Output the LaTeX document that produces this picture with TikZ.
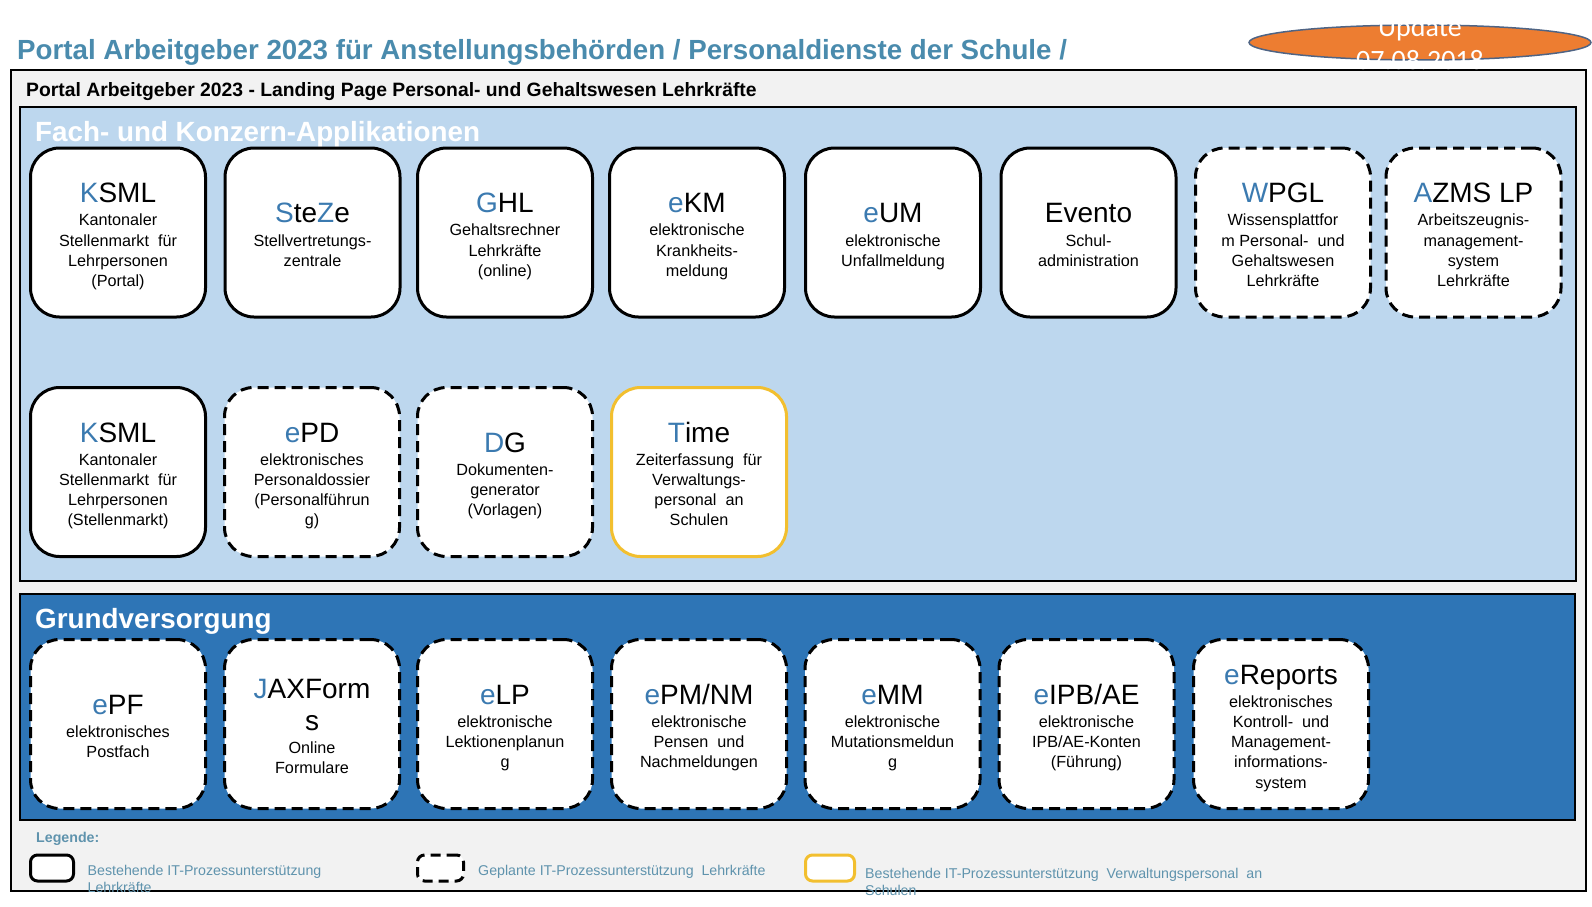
\documentclass[tikz,border=0pt]{standalone}
\usepackage{fontspec}
\setmainfont{Liberation Sans}
\newfontfamily\updatefont{Carlito}
\usetikzlibrary{shapes.geometric}
\definecolor{headteal}{HTML}{4A8BAD}
\definecolor{legendteal}{HTML}{5F93AD}
\definecolor{appblue}{HTML}{3B7AB0}
\definecolor{panelblue}{HTML}{2E75B6}
\definecolor{panellight}{HTML}{BDD7EE}
\definecolor{framegray}{HTML}{F2F2F2}
\definecolor{zeityellow}{HTML}{F2BF2F}
\definecolor{updateorange}{HTML}{ED7D31}
\definecolor{updateline}{HTML}{4F6484}
\newcommand{\ab}[1]{\textcolor{appblue}{#1}}
\newcommand{\tn}[1]{{\fontsize{28}{30}\selectfont #1}}
\newcommand{\tl}[1]{\rule{0pt}{29pt}\tn{#1}}
\tikzset{
  app/.style={draw=black, line width=3pt, fill=white, rounded corners=29pt, minimum width=175pt, minimum height=169pt, inner sep=0pt, align=center, font=\fontsize{16.2}{20.2}\selectfont,
    execute at end node=\rule[-5pt]{0pt}{5pt}},
  plan/.style={app, dash pattern=on 11pt off 6pt},
  zeit/.style={app, draw=zeityellow},
  legbox/.style={draw=black, line width=3pt, fill=white, rounded corners=7pt, minimum width=43pt, minimum height=26pt, inner sep=0pt},
  legtext/.style={text=legendteal, anchor=base west, inner sep=0pt, font=\fontsize{14.2}{16}\selectfont},
  headtext/.style={anchor=base west, inner sep=0pt, font=\bfseries\fontsize{27.8}{30}\selectfont}
}
\begin{document}
\begin{tikzpicture}[x=1pt,y=-1pt]
    \useasboundingbox (0,0) rectangle (1592,907);

    \draw [line width=2pt, fill=framegray] (11,70) rectangle (1586,891);
    \draw [line width=2pt, fill=panellight] (20,107) rectangle (1576,581);
    \draw [line width=2pt, fill=panelblue] (20,594) rectangle (1575,820);

    \node [ellipse, draw=updateline, fill=updateorange, line width=1.5pt, minimum width=342pt, minimum height=35pt, inner sep=0pt] (update) at (1420,42.5) {};
    \node [text=white, font=\updatefont\fontsize{28}{33}\selectfont, align=center, inner sep=0pt] (updatetext) at (1420,43) {Update\\07.08.2018};

    \node [headtext, text=headteal, font=\bfseries\fontsize{27.7}{30}\selectfont] (title) at (17,59.5) {Portal Arbeitgeber 2023 für Anstellungsbehörden / Personaldienste der Schule /};
    \node [headtext, font=\bfseries\fontsize{19.33}{22}\selectfont] (landing) at (26,96) {Portal Arbeitgeber 2023 - Landing Page Personal- und Gehaltswesen Lehrkräfte};
    \node [headtext, text=white] (fach) at (35,141) {Fach- und Konzern-Applikationen};
    \node [headtext, text=white] (grund) at (35,628) {Grundversorgung};

    % erste Reihe
    \node [app] (ksmlp) at (118,232.5) {\tl{\ab{K}SML}\\[3pt]Kantonaler\\Stellenmarkt~~für\\Lehrpersonen\\(Portal)};
    \node [app] (steze) at (312.5,232.5) {\tl{\ab{S}te\ab{Z}e}\\[3pt]Stellvertretungs-\\zentrale};
    \node [app] (ghl) at (505,232.5) {\tl{\ab{G}HL}\\[3pt]Gehaltsrechner\\Lehrkräfte\\(online)};
    \node [app] (ekm) at (697,232.5) {\tl{\ab{e}KM}\\[3pt]elektronische\\Krankheits-\\meldung};
    \node [app] (eum) at (893,232.5) {\tl{\ab{e}UM}\\[3pt]elektronische\\Unfallmeldung};
    \node [app] (evento) at (1088.5,232.5) {\tl{Evento}\\[3pt]Schul-\\administration};
    \node [plan] (wpgl) at (1283,232.5) {\tl{\ab{W}PGL}\\[3pt]Wissensplattfor\\m Personal-~~und\\Gehaltswesen\\Lehrkräfte};
    \node [plan] (azms) at (1473.5,232.5) {\tl{\ab{A}ZMS LP}\\[3pt]Arbeitszeugnis-\\management-\\system\\Lehrkräfte};

    % zweite Reihe
    \node [app] (ksmls) at (118,472) {\tl{\ab{K}SML}\\[3pt]Kantonaler\\Stellenmarkt~~für\\Lehrpersonen\\(Stellenmarkt)};
    \node [plan] (epd) at (312,472) {\tl{\ab{e}PD}\\[3pt]elektronisches\\Personaldossier\\(Personalführun\\g)};
    \node [plan] (dg) at (505,472) {\tl{\ab{D}G}\\[3pt]Dokumenten-\\generator\\(Vorlagen)};
    \node [zeit] (time) at (699,472) {\tl{\ab{T}ime}\\[3pt]Zeiterfassung~~für\\Verwaltungs-\\personal~~an\\Schulen};

    % Grundversorgung
    \node [plan] (epf) at (118,724) {\tl{\ab{e}PF}\\[3pt]elektronisches\\Postfach};
    \node [plan] (jax) at (312,724) {\tl{\ab{J}AXForm}\\[12pt]\tn{s}\\[3pt]Online\\Formulare};
    \node [plan] (elp) at (505,724) {\tl{\ab{e}LP}\\[3pt]elektronische\\Lektionenplanun\\g};
    \node [plan] (epm) at (699,724) {\tl{\ab{e}PM/NM}\\[3pt]elektronische\\Pensen~~und\\Nachmeldungen};
    \node [plan] (emm) at (892.5,724) {\tl{\ab{e}MM}\\[3pt]elektronische\\Mutationsmeldun\\g};
    \node [plan] (eipb) at (1086.5,724) {\tl{\ab{e}IPB/AE}\\[3pt]elektronische\\IPB/AE-Konten\\(Führung)};
    \node [plan] (erep) at (1281,724) {\tl{\ab{e}Reports}\\[3pt]elektronisches\\Kontroll-~~und\\Management-\\informations-\\system};

    % Legende
    \node [text=legendteal, anchor=base west, inner sep=0pt, font=\bfseries\fontsize{14.2}{16}\selectfont] (legende) at (36,842) {Legende:};
    \node [legbox] (legbest) at (52,868) {};
    \node [legbox, minimum width=46pt, dash pattern=on 10pt off 6pt] (legplan) at (440.5,868) {};
    \node [legbox, minimum width=49pt, draw=zeityellow] (legzeit) at (830,868) {};
    \node [legtext] (txtbest) at (87.5,875) {Bestehende IT-Prozessunterstützung};
    \node [legtext] (txtbestb) at (87.5,892) {Lehrkräfte};
    \node [legtext] (txtplan) at (478,875) {Geplante IT-Prozessunterstützung~~Lehrkräfte};
    \node [legtext] (txtzeit) at (865,878) {Bestehende IT-Prozessunterstützung~~Verwaltungspersonal~~an};
    \node [legtext] (txtzeitb) at (865,895) {Schulen};
\end{tikzpicture}
\end{document}
